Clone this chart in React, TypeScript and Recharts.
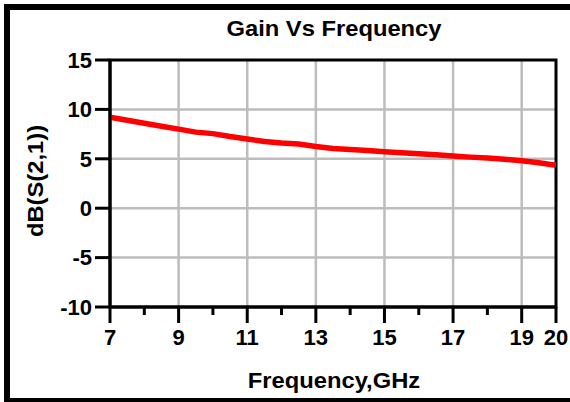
import React from 'react';
import { LineChart, Line, XAxis, YAxis, CartesianGrid, ReferenceArea } from 'recharts';

const frequencyGHz = [7, 7.5, 8, 8.5, 9, 9.5, 10, 10.5, 11, 11.5, 12, 12.5, 13, 13.5, 14, 14.5, 15, 15.5, 16, 16.5, 17, 17.5, 18, 18.5, 19, 19.5, 20];
const gainDb = [9.2, 8.9, 8.6, 8.3, 8.0, 7.7, 7.55, 7.25, 7.0, 6.75, 6.6, 6.5, 6.25, 6.05, 5.95, 5.85, 5.72, 5.62, 5.5, 5.4, 5.28, 5.17, 5.08, 4.95, 4.8, 4.6, 4.35];

const yTicks = [-10, -5, 0, 5, 10, 15];
const xTicks = [7, 8, 9, 10, 11, 12, 13, 14, 15, 16, 17, 18, 19, 20];
const xLabeledTicks = [7, 9, 11, 13, 15, 17, 19, 20];
const xGridValues = [9, 11, 13, 15, 17, 19];
const yGridValues = [-5, 0, 5, 10];

const titleText = 'Gain Vs Frequency';
const xAxisTitle = 'Frequency,GHz';
const yAxisTitle = 'dB(S(2,1))';

const data = frequencyGHz.map((f, i) => ({ f, g: gainDb[i] }));

const FONT = '"Liberation Sans", Arial, Helvetica, sans-serif';
const TICK_FONT_SIZE = 22;
const TITLE_FONT_SIZE = 22;
const TITLE_STRETCH = 1.08;

function XTick(props: any) {
  const { x, y, payload } = props;
  const v = payload.value;
  const major = xLabeledTicks.includes(v);
  return (
    <g>
      <line x1={x} x2={x} y1={y} y2={y + (major ? 16 : 8)} stroke="#000" strokeWidth={3} />
      {major && (
        <text x={x} y={y + 38} textAnchor="middle" fontFamily={FONT} fontWeight="bold" fontSize={TICK_FONT_SIZE} fill="#000">
          {v}
        </text>
      )}
    </g>
  );
}

function YTick(props: any) {
  const { x, y, payload } = props;
  return (
    <text x={x} y={y} dy="0.355em" textAnchor="end" fontFamily={FONT} fontWeight="bold" fontSize={TICK_FONT_SIZE} fill="#000">
      {payload.value}
    </text>
  );
}

function StretchedText({ x, y, angle = 0, children }: any) {
  return (
    <text
      transform={`translate(${x},${y}) rotate(${angle}) scale(${TITLE_STRETCH},1)`}
      textAnchor="middle"
      fontFamily={FONT}
      fontWeight="bold"
      fontSize={TITLE_FONT_SIZE}
      fill="#000"
    >
      {children}
    </text>
  );
}

export default function App() {
  return (
    <div style={{ position: 'fixed', left: 0, top: 0, width: 570, height: 402, overflow: 'hidden', background: '#fff' }}>
      <div
        style={{
          position: 'absolute',
          left: 4,
          top: 4,
          width: 620,
          height: 400,
          border: '6px solid #000',
          boxSizing: 'border-box',
        }}
      />
      <div style={{ position: 'absolute', left: 0, top: 0 }}>
        <LineChart width={570} height={402} data={data} margin={{ top: 60, right: 14, bottom: 0, left: 0 }}>
          <CartesianGrid
            stroke="#bdbdbd"
            strokeWidth={2.5}
            verticalValues={xGridValues}
            horizontalValues={yGridValues}
          />
          <XAxis
            dataKey="f"
            type="number"
            domain={[7, 20]}
            ticks={xTicks}
            interval={0}
            height={95}
            tickSize={0}
            tickMargin={0}
            tickLine={false}
            axisLine={{ stroke: '#000', strokeWidth: 3 }}
            tick={<XTick />}
            allowDataOverflow
          />
          <YAxis
            type="number"
            domain={[-10, 15]}
            ticks={yTicks}
            interval={0}
            width={110}
            tickSize={15}
            tickMargin={3}
            tickLine={{ stroke: '#000', strokeWidth: 3 }}
            axisLine={{ stroke: '#000', strokeWidth: 3 }}
            tick={<YTick />}
            allowDataOverflow
          />
          <Line
            type="linear"
            dataKey="g"
            stroke="#ff0000"
            strokeWidth={5.5}
            dot={false}
            activeDot={false}
            isAnimationActive={false}
          />
          <ReferenceArea x1={7} x2={20} y1={-10} y2={15} fill="none" fillOpacity={0} stroke="#000" strokeWidth={3} ifOverflow="visible" />
        </LineChart>
      </div>
      <svg width={570} height={402} style={{ position: 'absolute', left: 0, top: 0, pointerEvents: 'none' }}>
        <StretchedText x={334} y={36}>{titleText}</StretchedText>
        <StretchedText x={334} y={388}>{xAxisTitle}</StretchedText>
        <StretchedText x={43} y={181} angle={-90}>{yAxisTitle}</StretchedText>
      </svg>
    </div>
  );
}
